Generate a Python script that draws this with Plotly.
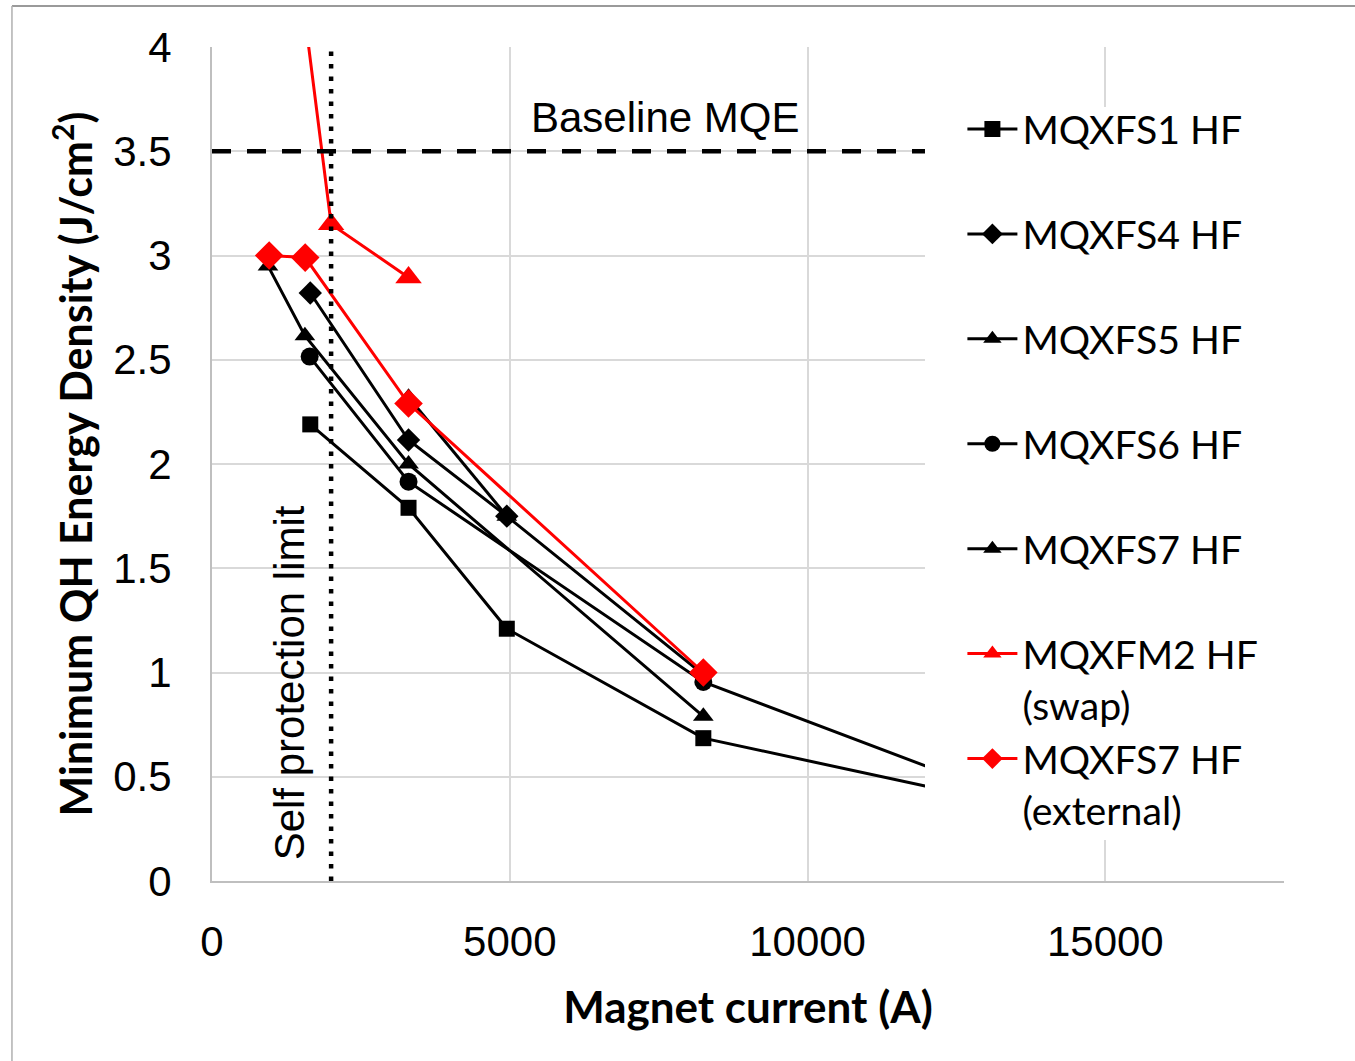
import plotly.graph_objects as go

# ---------------- data ----------------
s1_current = [1650, 3300, 4950, 8250, 13200]
s1_energy = [2.19, 1.79, 1.21, 0.685, 0.38]

s4_current = [1650, 3300, 4950, 8250]
s4_energy = [2.82, 2.115, 1.75, 0.99]

s5_current = [940, 1560, 3300, 8250]
s5_energy = [2.95, 2.615, 2.0, 0.79]

s6_current = [1640, 3300, 8250, 13200]
s6_energy = [2.515, 1.915, 0.955, 0.42]

s7_current = [3300, 4950]
s7_energy = [2.32, 1.75]

m2_current = [960, 2000, 3300]
m2_energy = [5.5, 3.15, 2.895]

s7ext_current = [960, 1565, 3300, 8250]
s7ext_energy = [3.0, 2.99, 2.29, 1.0]

baseline_mqe = 3.5
self_protection_current = 2000

x_ticks = [0, 5000, 10000, 15000]
y_ticks = [0, 0.5, 1, 1.5, 2, 2.5, 3, 3.5, 4]
y_tick_labels = ["0", "0.5", "1", "1.5", "2", "2.5", "3", "3.5", "4"]

series = [
    ("MQXFS1 HF<br>\u00a0", s1_current, s1_energy, "square", "black", 16),
    ("MQXFS4 HF<br>\u00a0", s4_current, s4_energy, "diamond", "black", 18),
    ("MQXFS5 HF<br>\u00a0", s5_current, s5_energy, "triangle-up", "black", 18),
    ("MQXFS6 HF<br>\u00a0", s6_current, s6_energy, "circle", "black", 18),
    ("MQXFS7 HF<br>\u00a0", s7_current, s7_energy, "triangle-up", "black", 18),
    ("MQXFM2 HF<br>(swap)", m2_current, m2_energy, "triangle-up", "#ff0000", 23),
    ("MQXFS7 HF<br>(external)", s7ext_current, s7ext_energy, "diamond", "#ff0000", 22),
]

# ---------------- figure ----------------
fig = go.Figure()

for name, xs, ys, sym, col, size in series:
    fig.add_trace(go.Scatter(
        x=xs, y=ys, name=name, mode="lines+markers",
        line=dict(color=col, width=3),
        marker=dict(symbol=sym, color=col, size=size, line=dict(width=0)),
    ))

# baseline MQE dashed line
fig.add_trace(go.Scatter(
    x=[0, 18000], y=[baseline_mqe, baseline_mqe], mode="lines",
    line=dict(color="black", width=4.5, dash="19px,16px"),
    showlegend=False, hoverinfo="skip",
))
# self protection limit dotted line
fig.add_trace(go.Scatter(
    x=[self_protection_current, self_protection_current], y=[0, 4], mode="lines",
    line=dict(color="black", width=4.5, dash="4.5px,8px"),
    showlegend=False, hoverinfo="skip",
))

axis_font = dict(family="Liberation Sans, Arial, sans-serif", size=42, color="black")

fig.update_layout(
    width=1355, height=1061,
    margin=dict(l=212, r=71, t=47, b=180),
    paper_bgcolor="white", plot_bgcolor="white",
    xaxis=dict(
        range=[0, 18000], tickvals=x_ticks, ticktext=[str(v) for v in x_ticks],
        showgrid=True, gridcolor="#d9d9d9", gridwidth=2,
        showline=True, linecolor="#bfbfbf", linewidth=2,
        zeroline=False, ticks="", tickfont=axis_font, ticklabelstandoff=23,
        title=dict(text="<b>Magnet current (A)</b>",
                   font=dict(family="Lato, sans-serif", size=44, color="black"),
                   standoff=28),
    ),
    yaxis=dict(
        range=[0, 4], tickvals=y_ticks, ticktext=y_tick_labels,
        showgrid=True, gridcolor="#d9d9d9", gridwidth=2,
        showline=True, linecolor="#bfbfbf", linewidth=2,
        zeroline=False, ticks="", tickfont=axis_font, ticklabelstandoff=30,
        title=dict(text="<b>Minimum QH Energy Density (J/cm<sup>2</sup>)</b>",
                   font=dict(family="Lato, sans-serif", size=43, color="black"),
                   standoff=7),
    ),
    legend=dict(
        x=0.70, y=0.94, xanchor="left", yanchor="top",
        bgcolor="rgba(0,0,0,0)", borderwidth=0,
        font=dict(family="Lato, sans-serif", size=39.2, color="black"),
        valign="top", tracegroupgap=0, itemwidth=50,
    ),
    showlegend=True,
)

# white legend box covering the plot on the right
fig.add_shape(type="rect", xref="paper", yref="paper",
              x0=0.6651, x1=1.0, y0=0.0492, y1=0.928,
              fillcolor="white", line=dict(width=0), layer="above")

# outer frame lines
fig.add_shape(type="line", xref="paper", yref="paper",
              x0=-0.1866, x1=1.07, y0=1.0492, y1=1.0492,
              line=dict(color="#9a9a9a", width=2), layer="above")
fig.add_shape(type="line", xref="paper", yref="paper",
              x0=-0.1866, x1=-0.1866, y0=1.0492, y1=-0.22,
              line=dict(color="#b0b0b0", width=1.5), layer="above")

fig.add_annotation(x=7600, y=3.66, text="Baseline MQE", showarrow=False,
                   font=dict(family="Liberation Sans, Arial, sans-serif", size=42, color="black"))
fig.add_annotation(x=1300, y=0.95, text="Self protection limit", showarrow=False,
                   textangle=-90,
                   font=dict(family="Liberation Sans, Arial, sans-serif", size=42, color="black"))

fig.write_html("out.html")
